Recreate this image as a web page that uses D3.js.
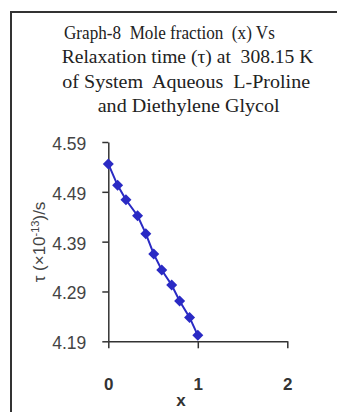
<!DOCTYPE html>
<html>
<head>
<meta charset="utf-8">
<script src="https://cdn.jsdelivr.net/npm/d3@7"></script>
<style>
  html, body { margin: 0; padding: 0; background: #fff; }
  svg { display: block; }
</style>
</head>
<body>
<svg id="chart" width="337" height="412"></svg>
<script>
// ---- data ----
const moleFraction = [0, 0.104, 0.197, 0.327, 0.419, 0.508, 0.597, 0.708, 0.797, 0.908, 1.0];
const relaxationTime = [4.546, 4.503, 4.474, 4.442, 4.406, 4.365, 4.333, 4.303, 4.271, 4.238, 4.202];
const yTickValues = [4.19, 4.29, 4.39, 4.49, 4.59];
const xTickValues = [0, 1, 2];
const titleLines = [
  "Graph-8\u00a0 Mole fraction\u00a0 (x) Vs",
  "Relaxation time (τ) at\u00a0 308.15 K",
  "of System\u00a0 Aqueous\u00a0 L-Proline",
  "and Diethylene Glycol"
];
const xTitle = "x";
const yTitle = "τ (×10-13)/s";

// ---- layout ----
const svg = d3.select("#chart");
const x = d3.scaleLinear().domain([0, 2]).range([108.3, 287.3]);
const y = d3.scaleLinear().domain([4.19, 4.59]).range([341.3, 142]);

// outer frame (extends beyond the visible area on right/bottom)
svg.append("rect")
  .attr("x", 11).attr("y", 12)
  .attr("width", 400).attr("height", 500)
  .attr("fill", "none").attr("stroke", "#333").attr("stroke-width", 2);

// title: each line horizontally scaled to the reference width
const titleX = [64, 61.7, 62.3, 97.7];
const titleW = [211, 252, 248, 182];
const titleY = [39, 63.3, 87.5, 111.7];
svg.append("g").selectAll("text").data(titleLines).join("text")
  .attr("font-family", "'Liberation Serif', 'Times New Roman', serif")
  .attr("font-size", 19.5)
  .attr("fill", "#222")
  .text(d => d)
  .each(function (d, i) {
    const w = this.getComputedTextLength();
    const s = titleW[i] / w;
    d3.select(this).attr("transform", `translate(${titleX[i]},${titleY[i]}) scale(${s},1)`);
  });

// y axis
const yAxis = svg.append("g")
  .attr("transform", `translate(${x(0)},0)`)
  .call(d3.axisLeft(y).tickValues(yTickValues).tickSize(6).tickSizeOuter(0)
    .tickPadding(5).tickFormat(d3.format(".2f")));
yAxis.select(".domain").attr("stroke", "#333").attr("stroke-width", 1.5);
yAxis.selectAll(".tick line").attr("stroke", "#333").attr("stroke-width", 1.5);
yAxis.selectAll(".tick text")
  .attr("font-family", "'Liberation Sans', Arial, sans-serif")
  .attr("font-size", 17.5)
  .attr("fill", "#444")
  .attr("x", -22)
  .attr("dy", "0.42em");

// x axis
const xAxis = svg.append("g")
  .attr("transform", `translate(0,${y(4.19)})`)
  .call(d3.axisBottom(x).tickValues(xTickValues).tickSize(7).tickSizeOuter(0)
    .tickFormat(d3.format("d")));
xAxis.select(".domain").attr("stroke", "#333").attr("stroke-width", 1.5);
xAxis.selectAll(".tick line").attr("stroke", "#333").attr("stroke-width", 1.5);
xAxis.selectAll(".tick text")
  .attr("font-family", "'Liberation Sans', Arial, sans-serif")
  .attr("font-size", 17)
  .attr("font-weight", "bold")
  .attr("fill", "#333")
  .attr("y", 49)
  .attr("dy", 0);

// axis titles
svg.append("text")
  .attr("x", 181).attr("y", 406)
  .attr("text-anchor", "middle")
  .attr("font-family", "'Liberation Sans', Arial, sans-serif")
  .attr("font-size", 17).attr("font-weight", "bold").attr("fill", "#333")
  .text(xTitle);

const yt = svg.append("text")
  .attr("transform", "translate(45,242) rotate(-90)")
  .attr("text-anchor", "middle")
  .attr("font-family", "'Liberation Sans', Arial, sans-serif")
  .attr("font-size", 17).attr("fill", "#444");
yt.append("tspan").text("τ (×10");
yt.append("tspan").attr("font-size", 11).attr("dy", -6).text("-13");
yt.append("tspan").attr("dy", 6).text(")/s");

// line
const pts = moleFraction.map((d, i) => [d, relaxationTime[i]]);
svg.append("path")
  .datum(pts)
  .attr("fill", "none")
  .attr("stroke", "#2a2ac4")
  .attr("stroke-width", 2)
  .attr("d", d3.line().x(d => x(d[0])).y(d => y(d[1])));

// diamond markers
svg.append("g").selectAll("path").data(pts).join("path")
  .attr("transform", d => `translate(${x(d[0])},${y(d[1])})`)
  .attr("d", "M0,-5.5L5.5,0L0,5.5L-5.5,0Z")
  .attr("fill", "#2a2ac4");
</script>
</body>
</html>
